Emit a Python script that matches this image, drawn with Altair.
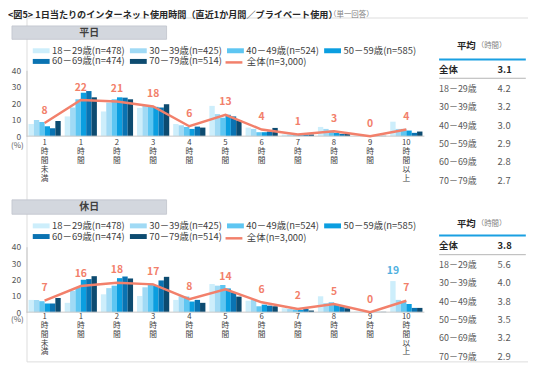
import altair as alt
import pandas as pd

FONT = "Noto Sans CJK JP"

# ---------------- data ----------------
CATS = ["1\n時\n間\n未\n満", "1\n時\n間", "2\n時\n間", "3\n時\n間", "4\n時\n間", "5\n時\n間",
        "6\n時\n間", "7\n時\n間", "8\n時\n間", "9\n時\n間", "10\n時\n間\n以\n上"]
SERIES = ["18－29歳(n=478)", "30－39歳(n=425)", "40－49歳(n=524)",
          "50－59歳(n=585)", "60－69歳(n=474)", "70－79歳(n=514)"]
TOTAL = "全体(n=3,000)"
BAR_COLORS = ["#cdeefb", "#a0daf5", "#5ec6f2", "#0b9ee0", "#0a73b2", "#0d4b70"]
LINE_COLOR = "#f2806b"
CALLOUT_COLOR = "#4fb0e0"

# weekday (平日)
WD_1829 = [7.4, 12.0, 15.0, 17.2, 7.4, 18.4, 5.2, 1.0, 5.6, 0.2, 8.8]
WD_3039 = [9.8, 17.4, 20.4, 18.4, 6.6, 13.4, 4.4, 1.0, 4.4, 0.2, 4.4]
WD_4049 = [8.6, 22.4, 22.4, 18.4, 5.6, 11.2, 2.4, 0.6, 3.4, 0.2, 4.4]
WD_5059 = [6.0, 26.4, 23.6, 17.8, 4.4, 13.0, 2.4, 0.6, 2.0, 0.2, 3.4]
WD_6069 = [4.8, 27.4, 23.4, 17.4, 5.8, 12.0, 2.8, 1.0, 1.4, 0.2, 2.0]
WD_7079 = [9.2, 23.6, 22.4, 19.4, 5.2, 9.6, 5.0, 1.0, 1.4, 0.2, 2.8]
WD_TOTAL = [8, 22, 21, 18, 6, 13, 4, 1, 3, 0, 4]

# holiday (休日)
HD_1829 = [7.5, 5.7, 10.9, 9.9, 7.5, 17.2, 7.0, 2.4, 9.7, 0.3, 19.0]
HD_3039 = [7.5, 13.1, 14.7, 15.2, 9.7, 16.2, 7.5, 2.0, 5.5, 0.3, 7.5]
HD_4049 = [6.7, 15.2, 16.2, 17.6, 9.5, 16.6, 3.6, 1.6, 6.0, 0.2, 6.6]
HD_5059 = [5.3, 19.8, 20.8, 16.2, 6.5, 14.5, 4.6, 1.4, 4.4, 0.2, 5.0]
HD_6069 = [5.3, 20.2, 21.8, 19.4, 7.5, 12.1, 4.0, 2.0, 3.6, 0.2, 2.6]
HD_7079 = [8.7, 22.0, 20.6, 21.6, 5.7, 9.5, 3.6, 1.0, 2.4, 0.2, 2.6]
HD_TOTAL = [7, 16, 18, 17, 8, 14, 6, 2, 5, 0, 7]
HD_CALLOUT = [(CATS[10], SERIES[0], 19)]

AVG_ROWS = ["全体", "18－29歳", "30－39歳", "40－49歳", "50－59歳", "60－69歳", "70－79歳"]
WD_AVG = [3.1, 4.2, 3.2, 3.0, 2.9, 2.8, 2.7]
HD_AVG = [3.8, 5.6, 4.0, 3.8, 3.5, 3.2, 2.9]

TITLE = "<図5> 1日当たりのインターネット使用時間（直近1か月間／プライベート使用）"
SUBTITLE = "（単一回答）"

# ---------------- layout (page px -> chart px) ----------------
OX, OY = 26.7, 16.0
def px(v):
    return v - OX
def py(v):
    return v - OY

PLOT_W = 401.5
xscale = alt.Scale(domain=CATS, range=[0, PLOT_W], paddingInner=0.11, paddingOuter=0.055)
X = alt.X("cat:N", scale=xscale, axis=None)
XOFF = alt.XOffset("series:N", scale=alt.Scale(domain=SERIES, paddingInner=0, paddingOuter=0))

def one(**kw):
    return pd.DataFrame([kw])


def panel(vals, totals, y0, y40, leg_y, line_leg_y, xl_y, pct_y, callouts=()):
    bars_df = pd.DataFrame([{"cat": c, "series": s, "value": v}
                            for s, arr in zip(SERIES, vals) for c, v in zip(CATS, arr)])
    tot_df = pd.DataFrame({"cat": CATS, "value": totals, "name": TOTAL})
    yscale = alt.Scale(domain=[0, 40], range=[py(y0), py(y40)], nice=False, zero=True)
    yaxis = alt.Axis(orient="left", values=[0, 10, 20, 30, 40], ticks=False, tickSize=0,
                     grid=False, domainColor="#c8c8c8", domainWidth=1, labelColor="#595959",
                     labelFont=FONT, labelFontSize=8.5, labelPadding=6, title=None)
    Y = alt.Y("value:Q", scale=yscale, axis=yaxis, title=None)

    bars = alt.Chart(bars_df).mark_bar().encode(
        x=X, xOffset=XOFF, y=Y,
        color=alt.Color("series:N", scale=alt.Scale(domain=SERIES, range=BAR_COLORS),
                        legend=alt.Legend(title=None, orient="none", legendX=9.8, legendY=py(leg_y),
                                          direction="horizontal", columns=4,
                                          symbolType="M-1.7,-0.5H1.7V0.5H-1.7Z",
                                          symbolSize=100, symbolStrokeWidth=0, symbolOpacity=1,
                                          labelFont=FONT, labelFontSize=9.5, labelColor="#404040",
                                          labelOffset=6, rowPadding=1, columnPadding=4,
                                          labelLimit=200, padding=0)),
    )
    base = alt.Chart(one(z=0)).mark_rule(color="#c8c8c8", strokeWidth=1).encode(
        y=alt.YDatum(0, type="quantitative", scale=yscale, axis=yaxis),
        x=alt.value(0), x2=alt.value(PLOT_W),
    )
    line = alt.Chart(tot_df).mark_line(strokeWidth=2.5).encode(
        x=X, y=Y,
        stroke=alt.Stroke("name:N", scale=alt.Scale(domain=[TOTAL], range=[LINE_COLOR]),
                          legend=alt.Legend(title=None, orient="none", legendX=px(226),
                                            legendY=py(line_leg_y), symbolType="stroke",
                                            symbolSize=289, symbolStrokeWidth=2.5,
                                            labelFont=FONT, labelFontSize=9.5, labelColor="#404040",
                                            labelOffset=3, padding=0)),
    )
    labels = alt.Chart(tot_df).mark_text(dy=-12.5, font=FONT, fontSize=10.5, fontWeight="bold",
                                         color=LINE_COLOR).encode(
        x=X, y=Y, text=alt.Text("value:Q", format="d"))
    xlabels = alt.Chart(pd.DataFrame({"cat": CATS})).mark_text(
        baseline="top", lineBreak="\n", lineHeight=9, font=FONT, fontSize=7.8,
        color="#404040").encode(x=X, y=alt.value(py(xl_y)), text="cat:N")
    pct = alt.Chart(one(t="(%)")).mark_text(font=FONT, fontSize=8, color="#595959").encode(
        x=alt.value(px(17.5)), y=alt.value(py(pct_y)), text="t:N")
    layers = [bars, base, line, labels, xlabels, pct]
    if callouts:
        cdf = pd.DataFrame([{"cat": c, "series": s, "value": v} for c, s, v in callouts])
        layers.append(alt.Chart(cdf).mark_text(dy=-10, font=FONT, fontSize=10.5, fontWeight="bold",
                                               color=CALLOUT_COLOR).encode(
            x=X, xOffset=XOFF, y=Y, text=alt.Text("value:Q", format="d")))
    return alt.layer(*layers)


def header(label, y_top, y_bot):
    box = alt.Chart(one(t=label)).mark_rect(fill="#d3d7de", stroke="#bfc4cc", strokeWidth=0.8).encode(
        x=alt.value(px(12)), x2=alt.value(px(168)), y=alt.value(py(y_top)), y2=alt.value(py(y_bot)))
    txt = alt.Chart(one(t=label)).mark_text(font=FONT, fontSize=10, fontWeight="bold",
                                            color="#404040").encode(
        x=alt.value(px(90)), y=alt.value(py((y_top + y_bot) / 2)), text="t:N")
    return [box, txt]


def table(avgs, head_y, blue_y, gray_y, first_y, last_y):
    df = pd.DataFrame({"row": AVG_ROWS, "avg": avgs})
    yrow = alt.Y("row:N", scale=alt.Scale(type="point", domain=AVG_ROWS,
                                          range=[py(first_y), py(last_y)], padding=0), axis=None)
    lx, vx = alt.value(px(443)), alt.value(px(502))
    tot_l = alt.Chart(df.iloc[:1]).mark_text(align="left", font=FONT, fontSize=9.5, fontWeight="bold",
                                             color="#262626").encode(x=lx, y=yrow, text="row:N")
    tot_v = alt.Chart(df.iloc[:1]).mark_text(align="left", font=FONT, fontSize=9.5, fontWeight="bold",
                                             color="#262626").encode(
        x=vx, y=yrow, text=alt.Text("avg:Q", format=".1f"))
    age_l = alt.Chart(df.iloc[1:]).mark_text(align="left", font=FONT, fontSize=9,
                                             color="#595959").encode(x=lx, y=yrow, text="row:N")
    age_v = alt.Chart(df.iloc[1:]).mark_text(align="left", font=FONT, fontSize=9.5,
                                             color="#595959").encode(
        x=vx, y=yrow, text=alt.Text("avg:Q", format=".1f"))
    tbl = alt.layer(tot_l, tot_v, age_l, age_v)
    h1 = alt.Chart(one(t="平均")).mark_text(align="left", font=FONT, fontSize=9.5, fontWeight="bold",
                                            color="#262626").encode(
        x=alt.value(px(461)), y=alt.value(py(head_y)), text="t:N")
    h2 = alt.Chart(one(t="（時間）")).mark_text(align="left", font=FONT, fontSize=7.5,
                                              color="#7f7f7f").encode(
        x=alt.value(px(481)), y=alt.value(py(head_y)), text="t:N")
    blue = alt.Chart(one(t=1)).mark_rule(color="#1aa0e2", strokeWidth=2).encode(
        x=alt.value(px(443)), x2=alt.value(px(530.5)), y=alt.value(py(blue_y)))
    gray = alt.Chart(one(t=1)).mark_rule(color="#b4b4b4", strokeWidth=1).encode(
        x=alt.value(px(443)), x2=alt.value(px(530.5)), y=alt.value(py(gray_y)))
    return [tbl, h1, h2, blue, gray]


top = panel([WD_1829, WD_3039, WD_4049, WD_5059, WD_6069, WD_7079], WD_TOTAL,
            135.7, 69.3, 44.3, 51.3, 139.0, 146.0)
bottom = panel([HD_1829, HD_3039, HD_4049, HD_5059, HD_6069, HD_7079], HD_TOTAL,
               313.3, 247.3, 221.0, 228.8, 314.0, 321.5, callouts=HD_CALLOUT)

title = alt.Chart(one(t=TITLE)).mark_text(align="left", font=FONT, fontSize=9.2, fontWeight="bold",
                                          color="#262626").encode(
    x=alt.value(px(8)), y=alt.value(py(13)), text="t:N")
subtitle = alt.Chart(one(t=SUBTITLE)).mark_text(align="left", font=FONT, fontSize=7.5,
                                                color="#7f7f7f").encode(
    x=alt.value(px(332)), y=alt.value(py(13.3)), text="t:N")

layers = [top, bottom, title, subtitle]
layers += header("平日", 24.5, 38)
layers += header("休日", 200, 214.5)
layers += table(WD_AVG, 45, 58.3, 77.3, 69.3, 180.7)
layers += table(HD_AVG, 224, 236, 255.3, 247, 358.3)

chart = alt.layer(*layers).resolve_scale(
    y="independent", color="independent", stroke="independent"
).properties(
    width=506, height=347,
    padding={"left": OX - 8, "top": OY - 8, "right": 0, "bottom": 0},
    autosize=alt.AutoSizeParams(type="none"),
).configure_view(stroke=None).configure(font=FONT)

chart.save("out.html", embed_options={"renderer": "svg", "actions": False})
